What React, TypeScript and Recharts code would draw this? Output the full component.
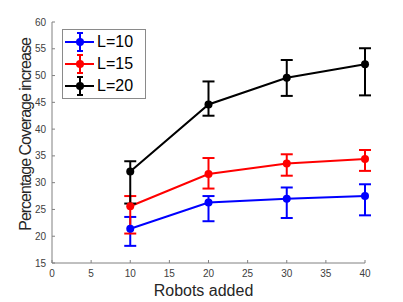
import React from 'react';
import { LineChart, Line, XAxis, YAxis, ErrorBar, Label } from 'recharts';

// robots added (x) and coverage increase per L
const robots = [10, 20, 30, 40];
const xTicks = [0, 5, 10, 15, 20, 25, 30, 35, 40];
const yTicks = [15, 20, 25, 30, 35, 40, 45, 50, 55, 60];

const l10 = [21.4, 26.3, 27.0, 27.5];
const l10Lo = [18.2, 22.8, 23.4, 23.9];
const l10Hi = [23.6, 27.5, 29.1, 29.7];

const l15 = [25.6, 31.6, 33.6, 34.4];
const l15Lo = [20.5, 28.9, 31.3, 32.2];
const l15Hi = [27.5, 34.6, 35.3, 36.1];

const l20 = [32.1, 44.6, 49.6, 52.1];
const l20Lo = [26.1, 42.5, 46.2, 46.3];
const l20Hi = [34.0, 48.9, 52.9, 55.1];

const seriesNames = ['L=10', 'L=15', 'L=20'];
const seriesColors = ['#0000ff', '#ff0000', '#000000'];

const data = robots.map((r, i) => ({
  robots: r,
  l10: l10[i],
  l10Err: [l10[i] - l10Lo[i], l10Hi[i] - l10[i]],
  l15: l15[i],
  l15Err: [l15[i] - l15Lo[i], l15Hi[i] - l15[i]],
  l20: l20[i],
  l20Err: [l20[i] - l20Lo[i], l20Hi[i] - l20[i]],
}));

const FONT = '"Liberation Sans", Arial, Helvetica, sans-serif';

function LegendBox() {
  return (
    <div
      style={{
        position: 'absolute',
        left: 62,
        top: 29,
        border: '1px solid #8a8a8a',
        background: '#fff',
        width: 82,
        paddingTop: 1,
        paddingBottom: 1,
        fontFamily: FONT,
      }}
    >
      {seriesNames.map((name, i) => (
        <div key={name} style={{ display: 'flex', alignItems: 'center', height: 22 }}>
          <svg width={34} height={22} style={{ display: 'block' }}>
            <line x1={2} x2={31} y1={11} y2={11} stroke={seriesColors[i]} strokeWidth={2} />
            <line x1={17} x2={17} y1={2} y2={20} stroke={seriesColors[i]} strokeWidth={2} />
            <line x1={14} x2={20} y1={2} y2={2} stroke={seriesColors[i]} strokeWidth={2} />
            <line x1={14} x2={20} y1={20} y2={20} stroke={seriesColors[i]} strokeWidth={2} />
            <circle cx={17} cy={11} r={4} fill={seriesColors[i]} />
          </svg>
          <span style={{ fontSize: 16, color: '#000', lineHeight: '22px' }}>{name}</span>
        </div>
      ))}
    </div>
  );
}

export default function App() {
  const keys = ['l10', 'l15', 'l20'];
  return (
    <div style={{ position: 'absolute', left: 0, top: 0, width: 403, height: 302, background: '#fff' }}>
      <LineChart
        width={403}
        height={302}
        data={data}
        margin={{ top: 22, right: 38, bottom: 0, left: 0 }}
        style={{ fontFamily: FONT }}
      >
        <XAxis
          dataKey="robots"
          type="number"
          domain={[0, 40]}
          ticks={xTicks}
          height={39}
          axisLine={{ stroke: '#808080' }}
          tickLine={{ stroke: '#808080' }}
          tickSize={-3}
          tickMargin={10}
          tick={{ fill: '#404040', fontSize: 10 }}
          interval={0}
        >
          <Label
            content={({ viewBox }: any) => (
              <text
                x={viewBox.x + viewBox.width / 2 - 5}
                y={296}
                textAnchor="middle"
                fontSize={16}
                fill="#262626"
                fontFamily={FONT}
              >
                Robots added
              </text>
            )}
          />
        </XAxis>
        <YAxis
          type="number"
          domain={[15, 60]}
          ticks={yTicks}
          width={52}
          axisLine={{ stroke: '#808080' }}
          tickLine={{ stroke: '#808080' }}
          tickSize={-3}
          tickMargin={9}
          tick={{ fill: '#404040', fontSize: 10 }}
          interval={0}
          allowDataOverflow
        >
          <Label
            content={({ viewBox }: any) => {
              const cx = 25;
              const cy = viewBox.y + viewBox.height / 2 - 8;
              return (
                <text
                  x={cx}
                  y={cy}
                  textAnchor="middle"
                  dominantBaseline="central"
                  fontSize={16}
                  letterSpacing={-1}
                  fill="#262626"
                  fontFamily={FONT}
                  transform={`rotate(-90 ${cx} ${cy})`}
                >
                  Percentage Coverage increase
                </text>
              );
            }}
          />
        </YAxis>
        {keys.map((k, i) => (
          <Line
            key={k}
            dataKey={k}
            name={seriesNames[i]}
            stroke={seriesColors[i]}
            strokeWidth={2}
            dot={{ r: 4, fill: seriesColors[i], stroke: seriesColors[i], strokeWidth: 0 }}
            activeDot={false}
            isAnimationActive={false}
          >
            <ErrorBar
              dataKey={`${k}Err`}
              direction="y"
              width={6}
              stroke={seriesColors[i]}
              strokeWidth={2}
              isAnimationActive={false}
            />
          </Line>
        ))}
      </LineChart>
      <LegendBox />
    </div>
  );
}
